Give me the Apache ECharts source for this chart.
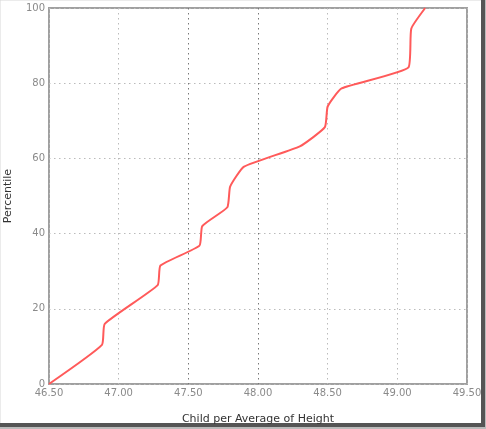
<!DOCTYPE html>
<html><head><meta charset="utf-8">
<script src="https://cdn.jsdelivr.net/npm/echarts@6/dist/echarts.min.js"></script>
<style>html,body{margin:0;padding:0;background:#fff}#c{width:486px;height:429px}</style>
</head><body><div id="c"></div>
<script>
const xTicks = [46.5, 47.0, 47.5, 48.0, 48.5, 49.0, 49.5];
const yTicks = [0, 20, 40, 60, 80, 100];
const childHeight = [46.50, 46.88, 46.90, 47.28, 47.30, 47.58, 47.60, 47.78, 47.80, 47.90, 48.30, 48.48, 48.50, 48.60, 49.08, 49.10, 49.20];
const percentile  = [0,     10.4,  16.0,  26.3,  31.5,  36.8,  42.0,  47.0,  52.5,  57.8,  63.2,  68.3,  73.8,  78.6,  84.2,  94.5,  100];

const chart = echarts.init(document.getElementById('c'), null, {renderer: 'canvas'});
const font = 'DejaVu Sans';
chart.setOption({
  animation: false,
  grid: {left: 49, right: 19, top: 8, bottom: 45, containLabel: false, outerBoundsMode: 'none', show: true, borderColor: '#a0a0a0', borderWidth: 2, backgroundColor: 'transparent'},
  xAxis: {
    type: 'value', min: 46.5, max: 49.5, interval: 0.5,
    name: 'Child per Average of Height', nameLocation: 'middle', nameGap: 30,
    nameTextStyle: {fontFamily: font, fontSize: 11, color: '#333'},
    axisLine: {show: false}, axisTick: {show: false},
    axisLabel: {fontFamily: font, fontSize: 10, color: '#8a8a8a', margin: 4, formatter: v => v.toFixed(2), showMinLabel: true, showMaxLabel: true},
    splitLine: {show: true, lineStyle: {type: [1.5, 3.5], color: ['#bbb','#bbb','#777','#777','#bbb','#bbb','#bbb'], width: 1}}
  },
  yAxis: {
    type: 'value', min: 0, max: 100, interval: 20,
    name: 'Percentile', nameLocation: 'middle', nameGap: 35,
    nameTextStyle: {fontFamily: font, fontSize: 11, color: '#333'},
    axisLine: {show: false}, axisTick: {show: false},
    axisLabel: {fontFamily: font, fontSize: 10, color: '#8a8a8a', margin: 4},
    splitLine: {show: true, lineStyle: {type: [1.5, 3.5], color: '#bbb', width: 1}}
  },
  series: [{
    type: 'line', data: childHeight.map((x, i) => [x, percentile[i]]),
    smooth: 0.15, showSymbol: false, symbol: 'none',
    lineStyle: {color: '#ff5a5a', width: 2}
  }],
  graphic: [
    {type: 'rect', shape: {x: 0, y: 0, width: 486, height: 429}, style: {fill: 'none', stroke: '#d8d8d8', lineWidth: 1}, silent: true},
    {type: 'rect', shape: {x: 481, y: 0, width: 4, height: 428}, style: {fill: '#555'}, silent: true},
    {type: 'rect', shape: {x: 0, y: 423, width: 485, height: 4}, style: {fill: '#555'}, silent: true},
    {type: 'rect', shape: {x: 485, y: 0, width: 1, height: 429}, style: {fill: '#bbb'}, silent: true},
    {type: 'rect', shape: {x: 0, y: 427, width: 486, height: 2}, style: {fill: '#bbb'}, silent: true}
  ]
});
</script></body></html>
